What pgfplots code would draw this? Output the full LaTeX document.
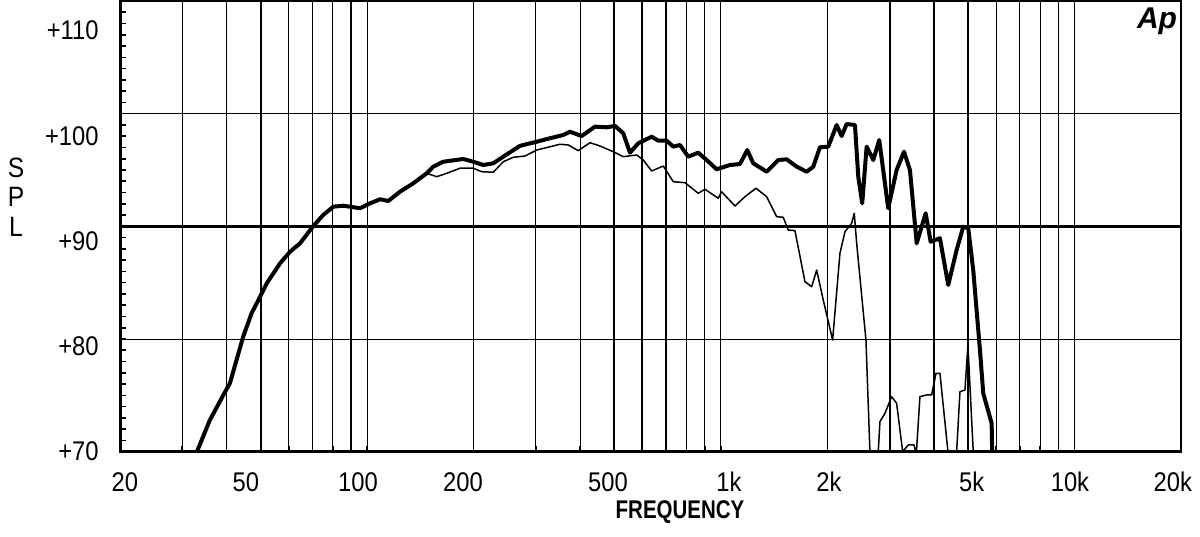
\documentclass[border=0pt]{standalone}
\usepackage{fontspec}
\setmainfont{Liberation Sans}
\newfontfamily\apfont[FakeStretch=0.88]{Liberation Sans}
\newfontfamily\lblfont[FakeStretch=0.8]{Liberation Sans}
\usepackage{pgfplots}
\pgfplotsset{compat=1.18}

\begin{document}
\begin{tikzpicture}
\path[use as bounding box] (-60pt,-42.15pt) rectangle (540pt,225.85pt);
\begin{axis}[
  at={(0,0)}, anchor=south west,
  scale only axis, width=530.5pt, height=225.35pt,
  xmode=log, xmin=20, xmax=20000,
  ymin=70, ymax=112.82,
  % label positions (as placed on the original chart)
  xtick={20.65,45.4,94.2,186.6,479.4,1054,2021,5118,9705,18968},
  xticklabels={20,50,100,200,500,1k,2k,5k,10k,20k},
  % thin vertical grid
  minor xtick={30,40,60,70,80,100,200,300,400,800,900,1000,2000,6000,7000,8000,9000,10000},
  xminorgrids=true,
  minor grid style={black, line width=0.5pt},
  % heavy vertical grid
  extra x ticks={50,90,500,600,700,3000,4000,5000},
  extra x tick labels={},
  extra x tick style={grid=major, major grid style={black, line width=1pt}},
  ytick={70,80,90,100,110},
  yticklabels={+70,+80,+90,+100,+110},
  minor ytick={71.0705,72.141,...,112.5},
  extra y ticks={80.705,102.115},
  extra y tick labels={},
  extra y tick style={grid=major, major grid style={black, line width=0.5pt}},
  tick align=inside, tick pos=left,
  major tick length=0pt, minor tick length=3pt,
  every tick/.style={black, line width=0.8pt},
  axis line style={black, line width=1pt},
  tick label style={font=\apfont\fontsize{13.5}{14}\selectfont},
  xticklabel style={anchor=center, inner sep=0pt, yshift=-15.15pt},
  yticklabel style={anchor=east, inner sep=0pt, xshift=-10.5pt},
]
\draw[black, line width=1.5pt] (axis cs:20,91.41) -- (axis cs:20000,91.41);
\draw[black, line width=1.5pt] (rel axis cs:0,0) -- (rel axis cs:0,1);
\draw[black, line width=1.5pt] (rel axis cs:0,0) -- (rel axis cs:1,0);

% thick trace
\addplot[black, line width=2pt, line join=round, mark=none] coordinates {
(33.0,70.0) (35.9,73.0) (39.2,75.39) (40.9,76.5) (44.6,80.93) (47.1,83.15)
(49.8,84.73) (52.0,86.0) (56.7,87.9) (60.5,89.0) (64.6,89.8) (70.4,91.44)
(75.1,92.49) (80.2,93.28) (85.6,93.37) (95.4,93.13) (101.9,93.6) (108.7,93.98)
(114.7,93.82) (123.8,94.7) (135.0,95.5) (147.3,96.45) (153.7,97.08) (164.1,97.55)
(186.9,97.81) (199.5,97.55) (212.9,97.24) (227.2,97.4) (242.5,98.03) (270.4,99.06)
(301.5,99.45) (328.7,99.78) (358.4,100.09) (374.4,100.4) (404.0,99.99) (440.6,100.88)
(475.5,100.82) (501.8,100.95) (529.7,100.25) (553.3,98.41) (584.0,99.3) (637.3,99.93)
(665.3,99.55) (702.7,99.55) (733.6,98.98) (766.3,99.14) (808.8,98.03) (863.0,98.41)
(911.5,97.71) (973.0,96.83) (1060.8,97.24) (1132.3,97.33) (1187.4,98.66) (1234.7,97.4)
(1347.3,96.6) (1452.9,97.71) (1534.6,97.78) (1637.8,97.08) (1748.1,96.6) (1824.9,97.08)
(1906.1,98.92) (2011.9,98.98) (2125,101.04) (2195,99.99) (2268,101.13) (2394,101.04)
(2446,96.13) (2510,93.6) (2583,98.98) (2697,97.71) (2804,99.61) (2973,93.13)
(3140,96.76) (3294,98.5) (3425,96.76) (3578,89.8) (3794,92.65) (3919,89.95)
(4163,90.28) (4394,85.84) (4641,89.16) (4845,91.38) (5005,91.23) (5171,87.26)
(5402,79.66) (5519,75.55) (5829,72.7) (5850,70.0) (5870,69.0)
};

% thin trace
\addplot[black, line width=0.75pt, line join=round, mark=none] coordinates {
(33.0,70.0) (35.9,73.0) (39.2,75.39) (40.9,76.5) (44.6,80.93) (47.1,83.15)
(49.8,84.73) (52.0,86.0) (56.7,87.9) (60.5,89.0) (64.6,89.8) (70.4,91.44)
(75.1,92.49) (80.2,93.28) (85.6,93.37) (95.4,93.13) (101.9,93.6) (108.7,93.98)
(114.7,93.82) (123.8,94.7) (135.0,95.5) (147.3,96.45) (157.2,96.13) (167.8,96.45)
(182.9,96.93) (199.5,96.93) (210.7,96.6) (227.2,96.55) (242.5,97.55) (258.8,97.97)
(279.3,98.09) (301.5,98.66) (350.8,99.21) (370.3,99.14) (395.1,98.6) (426.5,99.36)
(455.2,99.04) (496.3,98.5) (529.7,98.03) (578.0,98.19) (603.3,97.71) (637.3,96.67)
(687.4,97.14) (733.6,95.65) (791.6,95.56) (863.0,94.55) (901.5,94.93) (983.2,94.08)
(1005,94.7) (1096,93.34) (1170,94.23) (1256.5,95.03) (1347.3,94.23) (1437.9,92.33)
(1501,92.27) (1550.7,91.06) (1619.8,91.0) (1728.8,86.15) (1806,85.68) (1865.8,87.26)
(1947.6,84.41) (2070,80.61) (2171,88.85) (2243,90.9) (2343,91.7) (2383,92.65)
(2420.6,89.8) (2571.6,80.61) (2639,70.0) (2709,66) (2786,70.0) (2817,72.85)
(2910,73.65) (3040,75.23) (3140,74.6) (3266,70.0) (3387,70.64) (3515,70.64)
(3570,69.8) (3655,75.23) (3818,75.39) (3945,75.39) (4057,77.45) (4163,77.45)
(4386,70.0) (4501,66) (4641,70.0) (4742,75.7) (4899,75.86) (4995,80.14)
(5171,70.0) (5263,66)
};
\end{axis}

\node[font=\lblfont\bfseries\fontsize{12.8}{13}\selectfont] at (280pt,-30.15pt) {FREQUENCY};
\node[font=\apfont\fontsize{14}{14}\selectfont] at (-52pt,141.85pt) {S};
\node[font=\apfont\fontsize{14}{14}\selectfont] at (-52pt,127.35pt) {P};
\node[font=\apfont\fontsize{14}{14}\selectfont] at (-52pt,112.35pt) {L};
\node[font=\fontsize{15}{15}\selectfont\bfseries\itshape] at (518.5pt,215.35pt) {Ap};
\end{tikzpicture}
\end{document}
